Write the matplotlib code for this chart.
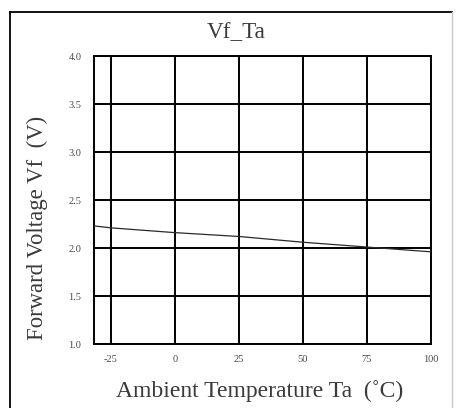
import matplotlib
matplotlib.use("Agg")
import matplotlib.pyplot as plt
from matplotlib.lines import Line2D

# Forward voltage vs. ambient temperature
temperature = [-31.6, -25, 0, 25, 50, 75, 100]
forward_voltage = [2.23, 2.21, 2.16, 2.12, 2.06, 2.01, 1.96]

x_ticks = [-25, 0, 25, 50, 75, 100]
x_tick_labels = ["-25", "0", "25", "50", "75", "100"]
y_ticks = [1.0, 1.5, 2.0, 2.5, 3.0, 3.5, 4.0]
y_tick_labels = ["1.0", "1.5", "2.0", "2.5", "3.0", "3.5", "4.0"]

title = "Vf_Ta"
x_label = "Ambient Temperature Ta  (\u02daC)"
y_label = "Forward Voltage Vf  (V)"

plt.rcParams["font.family"] = ["Liberation Serif", "DejaVu Serif"]
text_color = "#3a3a3a"

fig = plt.figure(figsize=(4.57, 4.08), dpi=100)
fig.patch.set_facecolor("white")

W, H = 457.0, 408.0
ax = fig.add_axes([94 / W, 1 - 344 / H, (431 - 94) / W, (344 - 56) / H])

ax.plot(temperature, forward_voltage, color="#2a2a2a", linewidth=0.9, zorder=3)

ax.set_xlim(-31.6, 100)
ax.set_ylim(1.0, 4.0)
ax.set_xticks(x_ticks)
ax.set_xticklabels(x_tick_labels)
ax.set_yticks(y_ticks)
ax.set_yticklabels(y_tick_labels)
ax.tick_params(axis="both", length=0, labelsize=7.5, labelcolor="#4a4a4a")
ax.tick_params(axis="x", pad=8)
ax.tick_params(axis="y", pad=9)
ax.grid(True, color="black", linewidth=1.4)
for sp in ax.spines.values():
    sp.set_linewidth(1.4)
    sp.set_color("black")

# Outer frame around the whole chart
fig.add_artist(Line2D([9.5 / W, 9.5 / W], [0, 1 - 11.5 / H],
                      transform=fig.transFigure, color="black", linewidth=1.3))
fig.add_artist(Line2D([9.5 / W, 452 / W], [1 - 11.5 / H, 1 - 11.5 / H],
                      transform=fig.transFigure, color="black", linewidth=1.3))
fig.add_artist(Line2D([452 / W, 452 / W], [0, 1 - 11.5 / H],
                      transform=fig.transFigure, color="#c8c8c8", linewidth=1.0))

fig.text(236 / W, 1 - 33 / H, title, ha="center", va="center",
         fontsize=16.7, color=text_color)
fig.text(37 / W, 1 - 228 / H, y_label, ha="center", va="center",
         rotation=90, fontsize=16.4, color=text_color)
fig.text(260 / W, 1 - 391 / H, x_label, ha="center", va="center",
         fontsize=17, color=text_color)

fig.savefig("out.png", dpi=100, facecolor="white")
